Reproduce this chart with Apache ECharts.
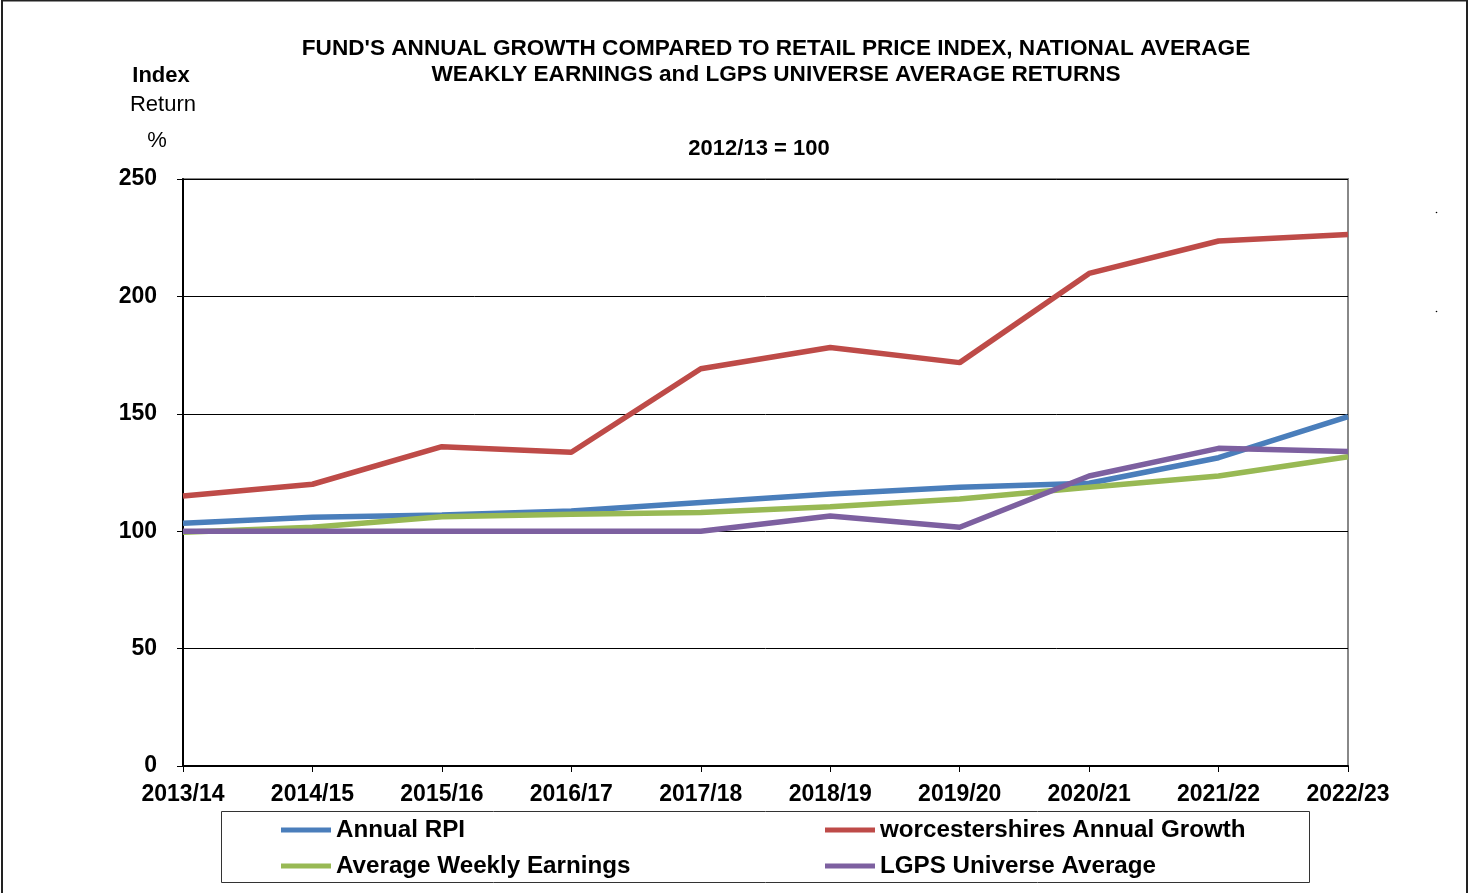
<!DOCTYPE html>
<html><head><meta charset="utf-8">
<script src="https://cdn.jsdelivr.net/npm/echarts@6/dist/echarts.min.js"></script>
<style>html,body{margin:0;padding:0;background:#fff}#c{width:1469px;height:893px}</style>
</head><body><div id="c"></div>
<script>
const categories = ['2013/14','2014/15','2015/16','2016/17','2017/18','2018/19','2019/20','2020/21','2021/22','2022/23'];
const annualRPI = [103.4,105.9,106.9,108.6,112.2,115.8,118.7,120.4,131.3,148.8];
const worcsGrowth = [115,120,136,133.6,169.2,178.2,171.8,209.8,223.6,226.4];
const avgWeeklyEarnings = [99.6,101.7,106.2,107.2,108,110.4,113.7,118.7,123.5,131.7];
const lgpsAverage = [100,100,100,100,100,106.5,101.7,123.5,135.3,133.9];
const yTicks = [0,50,100,150,200,250];
const seriesNames = ['Annual RPI','worcestershires Annual Growth','Average Weekly Earnings','LGPS Universe Average'];
const colors = ['#4a7ebb','#be4b48','#98b954','#7d60a0'];

const FONT = '"Liberation Sans", Arial, sans-serif';
const chart = echarts.init(document.getElementById('c'), null, {renderer:'canvas'});
const mk = (name, data, color) => ({
  name, type:'line', data, symbol:'none', smooth:false,
  lineStyle:{width:5.5, color}, itemStyle:{color}, z:2
});
const legendCommon = {
  orient:'vertical', top:813, itemWidth:50, itemHeight:5, icon:'rect', itemGap:12,
  textStyle:{fontFamily:FONT, fontWeight:'bold', fontSize:24.2, color:'#000', lineHeight:23},
  selectedMode:false
};
chart.setOption({
  animation:false,
  backgroundColor:'#fff',
  color:colors,
  grid:{left:183, right:121, top:179, bottom:127, show:true, borderColor:'#888', borderWidth:2, backgroundColor:'transparent'},
  xAxis:{
    type:'category', data:categories, boundaryGap:false,
    axisLine:{lineStyle:{color:'#000', width:2}},
    axisTick:{show:true, length:6, lineStyle:{color:'#000', width:1}},
    axisLabel:{fontFamily:FONT, fontWeight:'bold', fontSize:23, color:'#000', margin:17}
  },
  yAxis:{
    type:'value', min:yTicks[0], max:yTicks[yTicks.length-1], interval:50,
    axisLine:{show:true, lineStyle:{color:'#000', width:2}},
    axisTick:{show:true, length:6, lineStyle:{color:'#000', width:1}},
    splitLine:{lineStyle:{color:'#000', width:1}},
    axisLabel:{fontFamily:FONT, fontWeight:'bold', fontSize:23, color:'#000', margin:26}
  },
  legend:[
    Object.assign({}, legendCommon, {left:276, data:[seriesNames[0], seriesNames[2]]}),
    Object.assign({}, legendCommon, {left:820, data:[seriesNames[1], seriesNames[3]]})
  ],
  series:[
    mk(seriesNames[0], annualRPI, colors[0]),
    mk(seriesNames[1], worcsGrowth, colors[1]),
    mk(seriesNames[2], avgWeeklyEarnings, colors[2]),
    mk(seriesNames[3], lgpsAverage, colors[3])
  ],
  graphic:[
    {type:'rect', shape:{x:2, y:0.5, width:1465, height:900}, style:{fill:'none', stroke:'#222', lineWidth:2}, silent:true, z:-1},
    {type:'rect', shape:{x:221.5, y:811.5, width:1088, height:71}, style:{fill:'none', stroke:'#333', lineWidth:1}, silent:true},
    {type:'circle', shape:{cx:1436.5, cy:212.5, r:0.8}, style:{fill:'#000'}, silent:true},
    {type:'circle', shape:{cx:1436.5, cy:311.5, r:0.8}, style:{fill:'#000'}, silent:true},
    {type:'text', style:{text:"FUND'S ANNUAL GROWTH COMPARED TO RETAIL PRICE INDEX, NATIONAL AVERAGE\nWEAKLY EARNINGS and LGPS UNIVERSE AVERAGE RETURNS", fontFamily:FONT, fontWeight:'bold', fontSize:22.6, lineHeight:26, fill:'#000', x:776, y:36, textAlign:'center', textVerticalAlign:'top'}},
    {type:'text', style:{text:'2012/13 = 100', fontFamily:FONT, fontWeight:'bold', fontSize:22, fill:'#000', x:759, y:149, textAlign:'center', textVerticalAlign:'middle'}},
    {type:'text', style:{text:'Index', fontFamily:FONT, fontWeight:'bold', fontSize:22, fill:'#000', x:161, y:76, textAlign:'center', textVerticalAlign:'middle'}},
    {type:'text', style:{text:'Return', fontFamily:FONT, fontSize:22, fill:'#000', x:163, y:105, textAlign:'center', textVerticalAlign:'middle'}},
    {type:'text', style:{text:'%', fontFamily:FONT, fontSize:22, fill:'#000', x:157, y:141, textAlign:'center', textVerticalAlign:'middle'}}
  ]
});
</script></body></html>
